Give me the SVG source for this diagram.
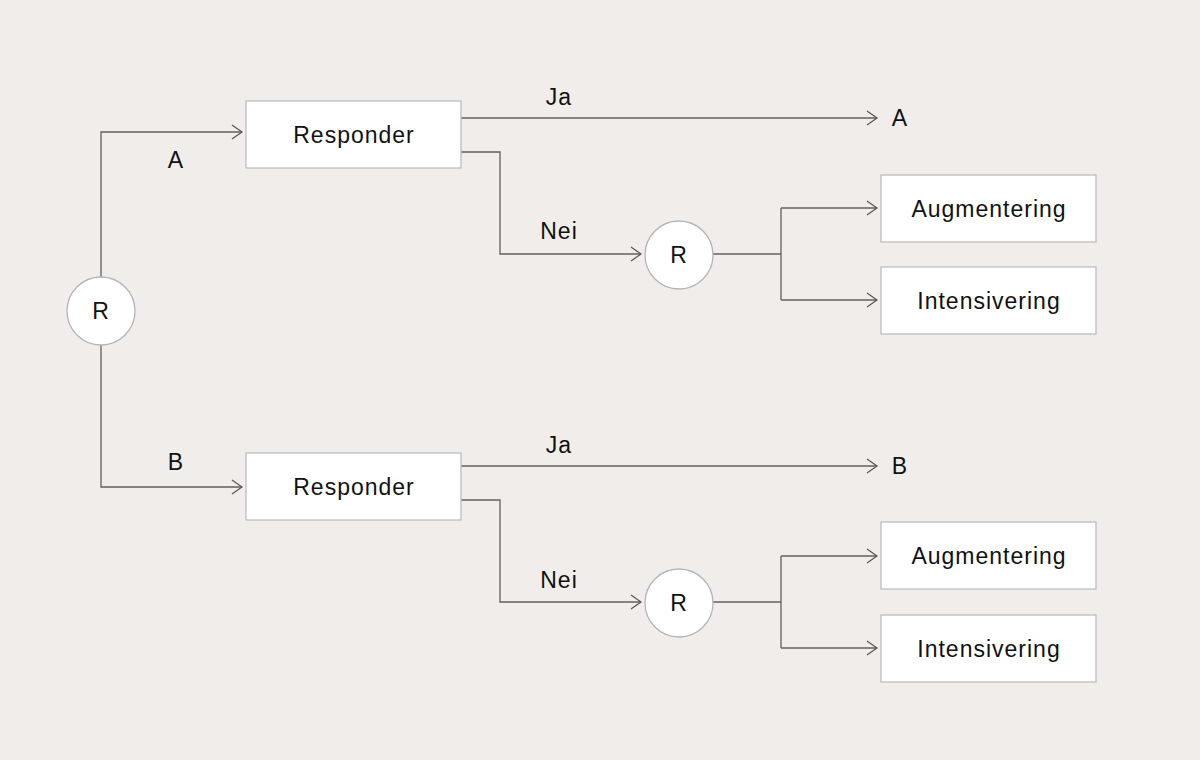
<svg xmlns="http://www.w3.org/2000/svg" width="1200" height="760" viewBox="0 0 1200 760">
<defs>
<marker id="arr" markerWidth="14" markerHeight="18" refX="12" refY="9" orient="auto" markerUnits="userSpaceOnUse">
<path d="M2,2 L12,9 L2,16" fill="none" stroke="#555" stroke-width="1.2"/>
</marker>
<style>
.box{fill:#fff;stroke:#bdbdbd;stroke-width:1.3}
.circ{fill:#fff;stroke:#b5b5b5;stroke-width:1.3}
.ln{fill:none;stroke:#606060;stroke-width:1.3}
.t{font-family:"Liberation Sans",Arial,sans-serif;font-size:23px;fill:#111;letter-spacing:1px;text-anchor:middle;dominant-baseline:central}
</style>
</defs>
<rect width="1200" height="760" fill="#f0edeb"/>
<g id="connectors">
<polyline class="ln" points="101,277 101,132 242,132" marker-end="url(#arr)"/>
<polyline class="ln" points="101,345 101,487 242,487" marker-end="url(#arr)"/>
<polyline class="ln" points="461,118 877,118" marker-end="url(#arr)"/>
<polyline class="ln" points="461,152 500,152 500,254 641,254" marker-end="url(#arr)"/>
<polyline class="ln" points="713,254 781,254"/>
<polyline class="ln" points="781,208 781,300"/>
<polyline class="ln" points="781,208 877,208" marker-end="url(#arr)"/>
<polyline class="ln" points="781,300 877,300" marker-end="url(#arr)"/>
<polyline class="ln" points="461,466 877,466" marker-end="url(#arr)"/>
<polyline class="ln" points="461,500 500,500 500,602 641,602" marker-end="url(#arr)"/>
<polyline class="ln" points="713,602 781,602"/>
<polyline class="ln" points="781,556 781,648"/>
<polyline class="ln" points="781,556 877,556" marker-end="url(#arr)"/>
<polyline class="ln" points="781,648 877,648" marker-end="url(#arr)"/>
<text class="t" x="176" y="160">A</text>
<text class="t" x="176" y="462">B</text>
<text class="t" x="559" y="97">Ja</text>
<text class="t" x="559" y="231">Nei</text>
<text class="t" x="900" y="118">A</text>
<text class="t" x="559" y="445">Ja</text>
<text class="t" x="559" y="580">Nei</text>
<text class="t" x="900" y="466">B</text>
</g>
<g id="root"><circle class="circ" cx="101" cy="311" r="34"/><text class="t" x="101" y="311">R</text></g>
<g id="resp-a"><rect class="box" x="246" y="101" width="215" height="67"/><text class="t" x="354" y="135">Responder</text></g>
<g id="resp-b"><rect class="box" x="246" y="453" width="215" height="67"/><text class="t" x="354" y="487">Responder</text></g>
<g id="r-a"><circle class="circ" cx="679" cy="255" r="34"/><text class="t" x="679" y="255">R</text></g>
<g id="r-b"><circle class="circ" cx="679" cy="603" r="34"/><text class="t" x="679" y="603">R</text></g>
<g id="aug-a"><rect class="box" x="881" y="175" width="215" height="67"/><text class="t" x="989" y="209">Augmentering</text></g>
<g id="int-a"><rect class="box" x="881" y="267" width="215" height="67"/><text class="t" x="989" y="301">Intensivering</text></g>
<g id="aug-b"><rect class="box" x="881" y="522" width="215" height="67"/><text class="t" x="989" y="556">Augmentering</text></g>
<g id="int-b"><rect class="box" x="881" y="615" width="215" height="67"/><text class="t" x="989" y="649">Intensivering</text></g>
</svg>
